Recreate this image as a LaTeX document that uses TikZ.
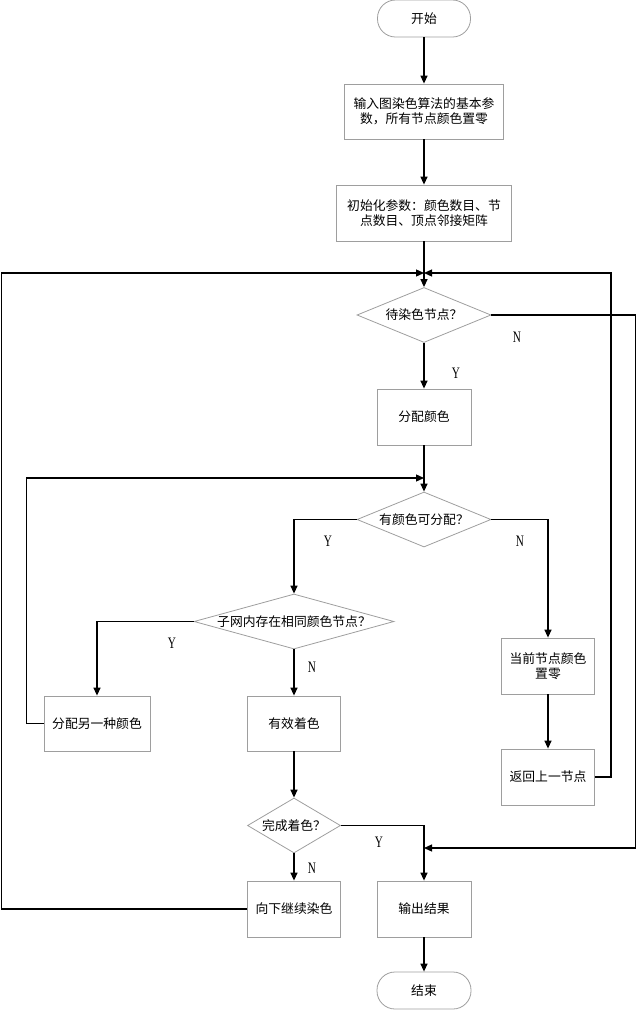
\documentclass[tikz,border=0pt]{standalone}
\usepackage{fontspec}
\newfontfamily\cjk{Noto Sans CJK SC}
\newfontfamily\lat[FakeStretch=0.7]{Liberation Serif}
\usetikzlibrary{shapes.geometric,arrows.meta}
\begin{document}
\begin{tikzpicture}[x=1pt,y=-1pt,
  every node/.style={font=\cjk\fontsize{12.8}{15}\selectfont},
  boxnode/.style={draw=black!38,line width=0.8pt,rectangle,inner sep=0pt,align=center},
  termnode/.style={draw=black!38,line width=0.8pt,rectangle,rounded corners=18pt,inner sep=0pt,minimum width=93pt,minimum height=37pt},
  decnode/.style={draw=black!38,line width=0.8pt,diamond,inner sep=0pt,aspect=2},
  arr/.style={line width=1.3pt,-{Triangle[length=8pt,width=7pt]}},
  yn/.style={font=\lat\fontsize{16}{18}\selectfont,inner sep=0pt}]
\useasboundingbox (0,0) rectangle (638,1010);
% nodes
\node[termnode] (start) at (424,18.5) {开始};
\node[boxnode,minimum width=159pt,minimum height=55pt] (b1) at (424,111.5) {输入图染色算法的基本参\\数，所有节点颜色置零};
\node[boxnode,minimum width=175pt,minimum height=56pt] (b2) at (424,213) {初始化参数：颜色数目、节\\点数目、顶点邻接矩阵};
\node[decnode,minimum width=134pt,minimum height=55pt] (d1) at (424,315) {\makebox[0pt]{待染色节点？}};
\node[boxnode,minimum width=94pt,minimum height=56pt] (b3) at (424,417) {分配颜色};
\node[decnode,minimum width=134pt,minimum height=55pt] (d2) at (424,519.5) {\makebox[0pt]{有颜色可分配？}};
\node[decnode,minimum width=200pt,minimum height=55pt] (d3) at (294,621.5) {\makebox[0pt]{子网内存在相同颜色节点？}};
\node[boxnode,minimum width=93pt,minimum height=56pt] (b4) at (548,666) {当前节点颜色\\置零};
\node[boxnode,minimum width=106pt,minimum height=55pt] (b5) at (97,723.5) {分配另一种颜色};
\node[boxnode,minimum width=93pt,minimum height=55pt] (b6) at (294,723.5) {有效着色};
\node[boxnode,minimum width=93pt,minimum height=56pt] (b7) at (548,777) {返回上一节点};
\node[decnode,minimum width=93pt,minimum height=55pt] (d4) at (294,825.5) {\makebox[0pt]{完成着色？}};
\node[boxnode,minimum width=93pt,minimum height=56pt] (b8) at (294,909) {向下继续染色};
\node[boxnode,minimum width=94pt,minimum height=56pt] (b9) at (424,909) {输出结果};
\node[termnode,minimum width=94pt] (end) at (424,990.5) {结束};
% merge points
\coordinate (m1) at (424,273);
\coordinate (m2) at (424,478);
\coordinate (m3) at (424,848);
% connectors
\draw[arr] (start) -- (b1);
\draw[arr] (b1) -- (b2);
\draw[arr] (b2) -- (d1);
\draw[arr] (d1) -- (b3);
\draw[arr] (b3) -- (d2);
\draw[arr] (d2.west) -| (d3.north);
\draw[arr] (d2.east) -| (b4.north);
\draw[arr] (d3.west) -| (b5.north);
\draw[arr] (d3) -- (b6);
\draw[arr] (b4) -- (b7);
\draw[arr] (b6) -- (d4);
\draw[arr] (d4) -- (b8);
\draw[arr] (d4.east) -| (b9.north);
\draw[arr] (b9) -- (end);
\draw[arr] (b7.east) -- ++(16,0) |- (m1);
\draw[arr] (b8.west) -- ++(-245.5,0) |- (m1);
\draw[arr] (b5.west) -- ++(-17,0) |- (m2);
\draw[arr] (d1.east) -- ++(144,0) |- (m3);
% labels
\node[yn] (l1) at (517,337) {N};
\node[yn] (l2) at (456,373) {Y};
\node[yn] (l3) at (328,541) {Y};
\node[yn] (l4) at (520,541) {N};
\node[yn] (l5) at (172,643) {Y};
\node[yn] (l6) at (312,667) {N};
\node[yn] (l7) at (379,842) {Y};
\node[yn] (l8) at (312,868) {N};
\end{tikzpicture}
\end{document}
